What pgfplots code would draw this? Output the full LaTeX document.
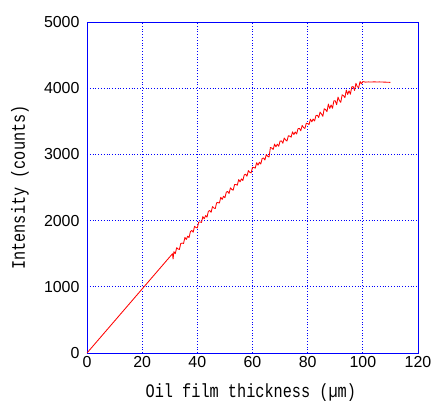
\documentclass[border=0pt]{standalone}
\usepackage{graphicx}
\usepackage{pgfplots}
\pgfplotsset{compat=1.18}
\usepackage{fontspec}
\setmainfont{Liberation Sans}
\newfontfamily\monofont{Liberation Mono}
\newcommand{\lab}[1]{\scalebox{1}[1.25]{\monofont\fontsize{15.3}{18}\selectfont #1}}
\begin{document}
\begin{tikzpicture}
\begin{axis}[
  scale only axis,
  width=331bp, height=331bp,
  xmin=0, xmax=120, ymin=0, ymax=5000,
  xtick={0,20,...,120}, ytick={0,1000,...,5000},
  axis line style={draw=blue, line width=0.9pt},
  xmajorgrids=true, ymajorgrids=true,
  grid style={draw=blue, dotted, line width=0.8pt},
  major grid style={draw=blue, dotted, line width=0.8pt},
  major tick length=0pt,
  tick style={draw=none},
  ticklabel style={font=\fontsize{16}{18}\selectfont},
  yticklabel style={xshift=-4bp},
  /pgf/number format/assume math mode=true,
  scaled ticks=false,
  /pgf/number format/1000 sep={},
  xlabel={\lab{Oil film thickness (µm)}},
  ylabel={\lab{Intensity (counts)}},
  xlabel style={at={(axis description cs:0.495,-0.121)}, anchor=center},
  ylabel style={at={(axis description cs:-0.2024,0.5)}, anchor=center},
]
\addplot[red, line width=0.85pt, mark=none, line join=round] coordinates {
(0,0) (31,1500) (31.2,1420) (31.5,1530) (32,1500) (32.5,1590) (33,1570) (33.5,1565)
(34,1655) (34.5,1660) (35,1655) (35.5,1745) (36,1715) (36.5,1765) (37,1745) (37.5,1835)
(38,1850) (38.5,1825) (39,1915) (39.5,1895) (40,1890) (40.5,1978) (41,1980) (41.5,1972)
(42,2060) (42.5,2028) (43,2075) (43.5,2052) (44,2140) (44.5,2152) (45,2125) (45.5,2212)
(46,2190) (46.5,2182) (47,2270) (47.5,2272) (48,2265) (48.5,2352) (49,2320) (49.5,2368)
(50,2345) (50.5,2430) (51,2440) (51.5,2410) (52,2495) (52.5,2470) (53,2460) (53.5,2545)
(54,2545) (54.5,2535) (55,2620) (55.5,2585) (56,2630) (56.5,2605) (57,2690) (57.5,2700)
(58,2670) (58.5,2755) (59,2730) (59.5,2720) (60,2805) (60.5,2803) (61,2792) (61.5,2875)
(62,2838) (62.5,2882) (63,2855) (63.5,2938) (64,2947) (64.5,2915) (65,2998) (65.5,2972)
(66,2960) (66.5,3105) (67,3095) (67.5,3075) (68,3155) (68.5,3115) (69,3155) (69.5,3122)
(70,3200) (70.5,3204) (71,3169) (71.5,3248) (72,3218) (72.5,3202) (73,3282) (73.5,3276)
(74,3261) (74.5,3340) (75,3300) (75.5,3339) (76,3309) (76.5,3388) (77,3393) (77.5,3357)
(78,3437) (78.5,3406) (79,3391) (79.5,3470) (80,3465) (80.5,3451) (81,3532) (81.5,3493)
(82,3534) (82.5,3505) (83,3586) (83.5,3592) (84,3558) (84.5,3639) (85,3610) (85.5,3576)
(86,3690) (86.5,3676) (87,3646) (87.5,3760) (88,3694) (88.5,3747) (89,3696) (89.5,3809)
(90,3810) (90.5,3751) (91,3865) (91.5,3814) (92,3786) (92.5,3900) (93,3887) (93.5,3857)
(94,3972) (94.5,3906) (95,3960) (95.5,3909) (96,4022) (96.5,4024) (97,3965) (97.5,4075)
(98,4022) (98.5,4010) (99,4101) (99.5,4067) (100,4100) (101,4092) (102,4095) (103,4093)
(104,4096) (105,4094) (106,4095) (107,4093) (108,4092) (109,4090) (110,4088)
};
\end{axis}
\pgfresetboundingbox
\path (current axis.south west) ++(-87bp,-50bp) rectangle ([shift={(14bp,22bp)}]current axis.north east);
\end{tikzpicture}
\end{document}
